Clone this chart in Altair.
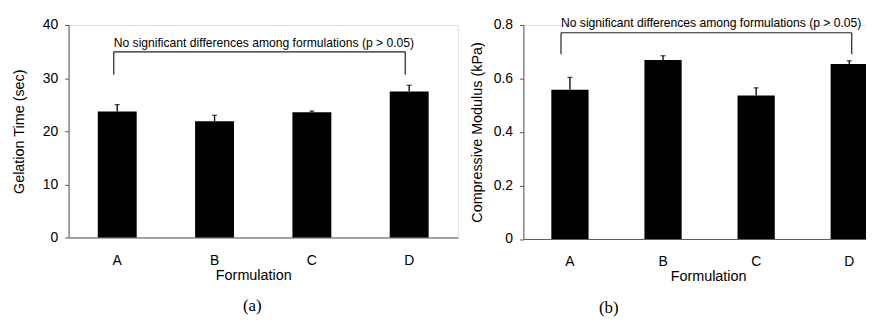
import altair as alt
import pandas as pd

# ---- data ----
formulations = ["A", "B", "C", "D"]
gel_time = [23.7, 21.9, 23.55, 27.5]
gel_sd = [1.3, 1.1, 0.25, 1.15]
modulus = [0.558, 0.669, 0.536, 0.654]
mod_sd = [0.046, 0.016, 0.029, 0.012]

note = "No significant differences among formulations (p > 0.05)"
bracket_from, bracket_to = "A", "D"
gel_bracket_top, gel_bracket_foot = 34.95, 30.65
gel_note_y = 36.6
mod_bracket_top, mod_bracket_foot = 0.771, 0.691
mod_note_y = 0.8085

gel_ticks = [0, 10, 20, 30, 40]
mod_ticks = [0, 0.2, 0.4, 0.6, 0.8]

FONT = "Liberation Sans"
AXIS_GRAY = "#595959"
LINE = "#222222"


def panel(values, sds, ytitle, ydomain, yticks, yfmt, b_top, b_foot, note_y,
          width, height, caption, caption_dx, ytitle_x, off_l, off_r):
    bars_df = pd.DataFrame({
        "f": formulations,
        "v": values,
        "hi": [v + s for v, s in zip(values, sds)],
    })
    h_df = pd.DataFrame({"f": [bracket_from], "f2": [bracket_to], "v": [b_top]})
    l_df = pd.DataFrame({"f": [bracket_from], "v": [b_foot], "v2": [b_top]})
    r_df = pd.DataFrame({"f": [bracket_to], "v": [b_foot], "v2": [b_top]})
    note_df = pd.DataFrame({"f": [bracket_from], "v": [note_y], "t": [note]})

    xaxis = alt.Axis(
        title="Formulation", labelAngle=0, ticks=False, labelPadding=16,
        labelFontSize=14, titleFontSize=14.5, titleFontWeight="normal",
        titleX=186, titleY=38, titleBaseline="middle", titleAlign="center",
        domainColor=AXIS_GRAY, domainWidth=1, labelColor="#000", titleColor="#000",
        grid=False, labelFont=FONT, titleFont=FONT,
    )
    xs = alt.Scale(domain=formulations, paddingInner=0.6, paddingOuter=0.3)
    x = alt.X("f:N", scale=xs, axis=xaxis, bandPosition=0.5)

    yaxis = alt.Axis(
        title=ytitle, values=yticks, format=yfmt, grid=False,
        tickSize=4, tickColor=AXIS_GRAY, domainColor=AXIS_GRAY, domainWidth=1,
        labelPadding=7, labelFontSize=14, labelColor="#000", labelFont=FONT,
        titleFont=FONT, titleFontSize=14.5, titleFontWeight="normal",
        titleColor="#000", titleX=ytitle_x, titleY=height / 2,
        titleBaseline="middle", titleAlign="center", titleAngle=270,
    )
    ys = alt.Scale(domain=ydomain, nice=False, zero=True)
    y = alt.Y("v:Q", scale=ys, axis=yaxis)

    bars = alt.Chart(bars_df).mark_bar(color="#000000").encode(
        x=alt.X("f:N", scale=xs, axis=xaxis), y=y
    )
    stem = alt.Chart(bars_df).mark_rule(color="#000000", strokeWidth=1.3).encode(
        x=x, y=y, y2="hi:Q"
    )
    cap = alt.Chart(bars_df).mark_tick(
        color="#000000", thickness=1.3, size=5
    ).encode(x=x, y=alt.Y("hi:Q", scale=ys, axis=yaxis))
    b_h = alt.Chart(h_df).mark_rule(
        color=LINE, strokeWidth=1.2, xOffset=off_l, x2Offset=off_r
    ).encode(x=x, x2=alt.X2("f2:N", bandPosition=0.5), y=y)
    b_l = alt.Chart(l_df).mark_rule(
        color=LINE, strokeWidth=1.2, xOffset=off_l
    ).encode(x=x, y=y, y2="v2:Q")
    b_r = alt.Chart(r_df).mark_rule(
        color=LINE, strokeWidth=1.2, xOffset=off_r
    ).encode(x=x, y=y, y2="v2:Q")
    txt = alt.Chart(note_df).mark_text(
        align="left", baseline="middle", fontSize=12.2, font=FONT,
        color="#000000", xOffset=off_l
    ).encode(x=x, y=y, text="t:N")

    return alt.layer(bars, stem, cap, b_h, b_l, b_r, txt).properties(
        width=width, height=height,
        title=alt.TitleParams(
            caption, orient="bottom", anchor="middle", frame="group",
            dx=caption_dx, offset=17, font="Liberation Serif", fontSize=17,
            fontWeight="normal", color="#000000",
        ),
    )


left = panel(gel_time, gel_sd, "Gelation Time (sec)", [0, 40], gel_ticks, "d",
             gel_bracket_top, gel_bracket_foot, gel_note_y,
             392, 214, "(a)", -11, -49, -3.5, -4)
right = panel(modulus, mod_sd, "Compressive Modulus (kPa)", [0, 0.8], mod_ticks, "~g",
              mod_bracket_top, mod_bracket_foot, mod_note_y,
              375, 215.5, "(b)", -101.5, -46, -9, 2.5)

chart = alt.hconcat(left, right, spacing=10).properties(
    padding={"left": 3, "top": 7, "right": -31, "bottom": 2}
).configure_view(stroke=None).configure(background="#ffffff")

chart.save("out.html", embed_options={"renderer": "svg", "actions": False})
